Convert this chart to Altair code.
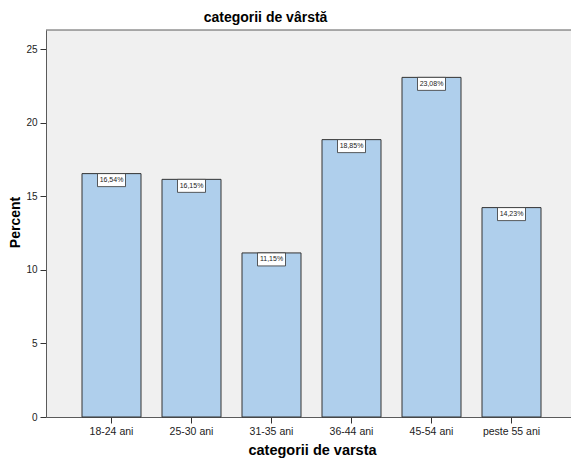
import altair as alt
import pandas as pd

# Age-group distribution (percent of respondents)
categories = ["18-24 ani", "25-30 ani", "31-35 ani", "36-44 ani", "45-54 ani", "peste 55 ani"]
percents = [16.54, 16.15, 11.15, 18.85, 23.08, 14.23]
labels = ["16,54%", "16,15%", "11,15%", "18,85%", "23,08%", "14,23%"]
y_ticks = [0, 5, 10, 15, 20, 25]

df = pd.DataFrame({"cat": categories, "pct": percents, "label": labels})

FONT = "Liberation Sans"
FRAME = "#5a5a5a"
BAR_FILL = "#afcfec"
BAR_EDGE = "#333333"

x_enc = alt.X(
    "cat:N",
    sort=categories,
    title="categorii de varsta",
    scale=alt.Scale(range=[0, 531], paddingInner=0.2625, paddingOuter=0.45),
    axis=alt.Axis(
        labelAngle=0, labelFont=FONT, labelFontSize=10.5, labelColor="#222222",
        tickColor="#333333", tickSize=6, labelPadding=3,
        domainColor=FRAME, domainWidth=1,
        titleFont=FONT, titleFontSize=14.5, titleFontWeight="bold", titleColor="#000000",
        titleX=266, titleY=33, titleBaseline="middle",
    ),
)

y_enc = alt.Y(
    "pct:Q",
    title="Percent",
    scale=alt.Scale(domain=[0, 26.3], nice=False, zero=True),
    axis=alt.Axis(
        values=y_ticks, grid=False, labelFont=FONT, labelFontSize=10, labelColor="#222222",
        tickColor="#333333", tickSize=6, labelPadding=3,
        domainColor=FRAME, domainWidth=1,
        titleFont=FONT, titleFontSize=14, titleFontWeight="bold", titleColor="#000000",
        titleX=-31, titleY=192, titleBaseline="middle", titleAngle=-90,
    ),
)

base = alt.Chart(df)

bars = base.mark_bar(color=BAR_FILL, stroke=BAR_EDGE, strokeWidth=1).encode(x=x_enc, y=y_enc)

# White label boxes hanging from the top of each bar
boxes = base.mark_point(
    shape="M-1,-0.464H1V0.464H-1Z", size=784, filled=True, fill="white",
    stroke="#333333", strokeWidth=0.8, opacity=1, yOffset=6.5,
).encode(x=alt.X("cat:N", sort=categories), y="pct:Q")

texts = base.mark_text(
    font=FONT, fontSize=7, color="#222222", baseline="middle", yOffset=6.5,
).encode(x=alt.X("cat:N", sort=categories), y="pct:Q", text="label:N")

top_line = alt.Chart(pd.DataFrame({"v": [0]})).mark_rule(color=FRAME, strokeWidth=1).encode(
    x=alt.value(0), x2=alt.value(525), y=alt.value(0)
)

chart = alt.layer(bars, boxes, texts, top_line).properties(
    width=525,
    height=387,
    background="white",
    autosize=alt.AutoSizeParams(type="none"),
    padding={"left": 46, "top": 30, "right": 0, "bottom": 43},
    title=alt.TitleParams(
        "categorii de vârstă", font=FONT, fontSize=14, fontWeight="bold", color="#000000",
        anchor="middle", dx=-43, dy=16, baseline="alphabetic", offset=9.5,
    ),
).configure_view(fill="#f0f0f0", stroke=None)

chart.save("out.html", embed_options={"renderer": "svg", "actions": False})
